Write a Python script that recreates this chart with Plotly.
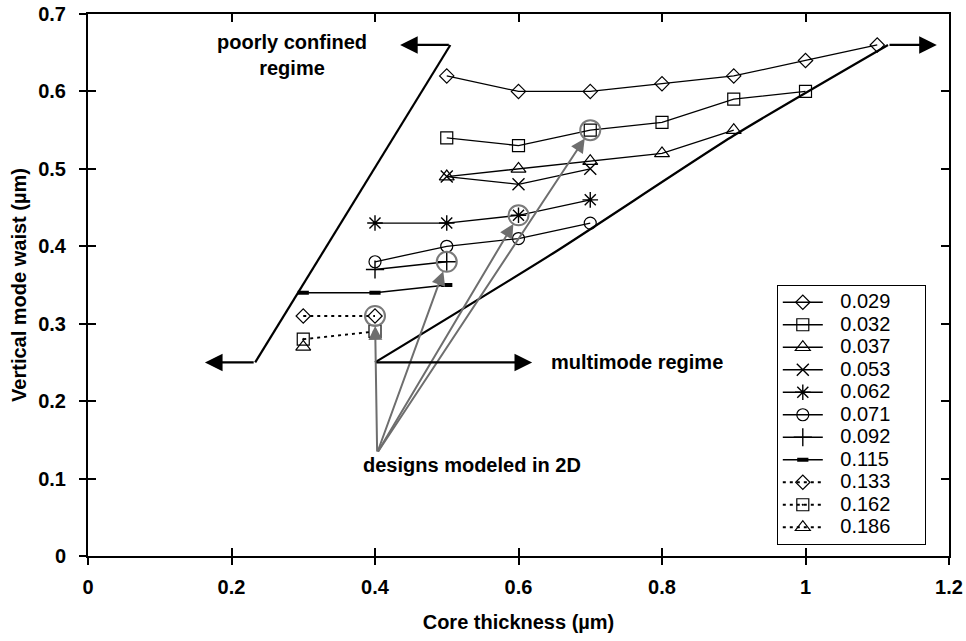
import plotly.graph_objects as go

# Core thickness (um) and vertical mode waist (um) for each index step
series_names = ["0.029", "0.032", "0.037", "0.053", "0.062", "0.071",
                "0.092", "0.115", "0.133", "0.162", "0.186"]

x_029 = [0.5, 0.6, 0.7, 0.8, 0.9, 1.0, 1.1]
y_029 = [0.62, 0.60, 0.60, 0.61, 0.62, 0.64, 0.66]
x_032 = [0.5, 0.6, 0.7, 0.8, 0.9, 1.0]
y_032 = [0.54, 0.53, 0.55, 0.56, 0.59, 0.60]
x_037 = [0.5, 0.6, 0.7, 0.8, 0.9]
y_037 = [0.49, 0.50, 0.51, 0.52, 0.55]
x_053 = [0.5, 0.6, 0.7]
y_053 = [0.49, 0.48, 0.50]
x_062 = [0.4, 0.5, 0.6, 0.7]
y_062 = [0.43, 0.43, 0.44, 0.46]
x_071 = [0.4, 0.5, 0.6, 0.7]
y_071 = [0.38, 0.40, 0.41, 0.43]
x_092 = [0.4, 0.5]
y_092 = [0.37, 0.38]
x_115 = [0.3, 0.4, 0.5]
y_115 = [0.34, 0.34, 0.35]
x_133 = [0.3, 0.4]
y_133 = [0.31, 0.31]
x_162 = [0.3, 0.4]
y_162 = [0.28, 0.29]
x_186 = [0.3]
y_186 = [0.27]

# Designs modeled in 2D (highlighted points)
design_x = [0.4, 0.5, 0.6, 0.7]
design_y = [0.31, 0.38, 0.44, 0.55]
design_origin = (0.403, 0.133)

# Regime boundaries
left_bound_x = [0.233, 0.505]
left_bound_y = [0.25, 0.66]
right_bound_x = [0.4, 0.65, 0.9, 1.115]
right_bound_y = [0.25, 0.392, 0.543, 0.66]

x_ticks = [0, 0.2, 0.4, 0.6, 0.8, 1.0, 1.2]
y_ticks = [0, 0.1, 0.2, 0.3, 0.4, 0.5, 0.6, 0.7]

FONT = "Arial, Liberation Sans, sans-serif"

styles = [
    ("diamond-open", 11, "solid", 1.2),
    ("square-open", 12, "solid", 1.2),
    ("triangle-up-open", 13, "solid", 1.2),
    ("x-thin-open", 12, "solid", 1.4),
    ("asterisk-open", 13, "solid", 1.4),
    ("circle-open", 12, "solid", 1.2),
    ("cross-thin-open", 13, "solid", 1.4),
    ("line-ew-open", 8, "solid", 4),
    ("diamond-open", 11, "3px,4px", 1.2),
    ("square-open-dot", 12, "3px,4px", 1.2),
    ("triangle-up-open", 13, "3px,4px", 1.2),
]

xs = [x_029, x_032, x_037, x_053, x_062, x_071, x_092, x_115, x_133, x_162, x_186]
ys = [y_029, y_032, y_037, y_053, y_062, y_071, y_092, y_115, y_133, y_162, y_186]

fig = go.Figure()

# Boundary lines
fig.add_trace(go.Scatter(x=left_bound_x, y=left_bound_y, mode="lines",
                         line=dict(color="black", width=2.2), showlegend=False,
                         hoverinfo="skip"))
fig.add_trace(go.Scatter(x=right_bound_x, y=right_bound_y, mode="lines",
                         line=dict(color="black", width=2.2, shape="spline", smoothing=0.6),
                         showlegend=False, hoverinfo="skip"))

lead = "&nbsp;" * 3
trail = "&nbsp;" * 7
for name, x, y, (sym, size, dash, mlw) in zip(series_names, xs, ys, styles):
    fig.add_trace(go.Scatter(
        x=x, y=y, mode="lines+markers",
        name=lead + "<span style='font-size:20px'>" + name + "</span>" + trail,
        line=dict(color="black", width=1.3 if dash == "solid" else 2, dash=dash),
        marker=dict(symbol=sym, size=size, color="black",
                    line=dict(color="black", width=mlw)),
    ))

# Highlight circles for 2D designs
fig.add_trace(go.Scatter(x=design_x, y=design_y, mode="markers", showlegend=False,
                         marker=dict(symbol="circle-open", size=20, color="#7a7a7a",
                                     line=dict(color="#7a7a7a", width=2)),
                         hoverinfo="skip"))

annotations = []
# Gray arrows from the label to each 2D design
for dx, dy in zip(design_x, design_y):
    annotations.append(dict(
        x=dx, y=dy, ax=design_origin[0], ay=design_origin[1],
        xref="x", yref="y", axref="x", ayref="y", text="",
        showarrow=True, arrowhead=2, arrowsize=1.4, arrowwidth=2,
        arrowcolor="#6e6e6e", standoff=10))

# Black regime arrows: (tail, head)
black_arrows = [
    ((0.233, 0.25), (0.163, 0.25)),
    ((0.505, 0.66), (0.435, 0.66)),
    ((1.115, 0.66), (1.183, 0.66)),
    ((0.4, 0.25), (0.619, 0.25)),
]
for (tx, ty), (hx, hy) in black_arrows:
    annotations.append(dict(
        x=hx, y=hy, ax=tx, ay=ty, xref="x", yref="y", axref="x", ayref="y",
        text="", showarrow=True, arrowhead=2, arrowsize=1.6, arrowwidth=2.2,
        arrowcolor="black", standoff=0))

label_font = dict(family=FONT, size=20, color="black", weight="bold")
annotations += [
    dict(x=0.284, y=0.647, xref="x", yref="y", text="poorly confined<br>regime",
         showarrow=False, font=label_font, align="center"),
    dict(x=0.643, y=0.25, xref="x", yref="y", text="multimode regime",
         showarrow=False, font=label_font, xanchor="left"),
    dict(x=0.381, y=0.117, xref="x", yref="y", text="designs modeled in 2D",
         showarrow=False, font=label_font, xanchor="left"),
]

tick_font = dict(family=FONT, size=20, color="black", weight="bold")
title_font = dict(family=FONT, size=20, color="black", weight="bold")

fig.update_layout(
    width=966, height=641,
    margin=dict(l=88, r=17, t=14, b=85),
    paper_bgcolor="white", plot_bgcolor="white",
    showlegend=True,
    legend=dict(x=0.8, y=0.5, xanchor="left", yanchor="top",
                bgcolor="white", bordercolor="black", borderwidth=1,
                font=dict(family=FONT, size=15, color="black"),
                itemwidth=40),
    annotations=annotations,
    xaxis=dict(range=[0, 1.2], tickvals=x_ticks, ticks="inside", ticklen=8,
               tickwidth=2, tickcolor="black", mirror="allticks", showline=True,
               linecolor="black", linewidth=2, showgrid=False, zeroline=False,
               tickfont=tick_font, ticklabelstandoff=12, automargin=False,
               title=dict(text="Core thickness (µm)", font=title_font, standoff=18)),
    yaxis=dict(range=[0, 0.7], tickvals=y_ticks, ticks="inside", ticklen=8,
               tickwidth=2, tickcolor="black", mirror="allticks", showline=True,
               linecolor="black", linewidth=2, showgrid=False, zeroline=False,
               tickfont=tick_font, ticklabelstandoff=16, automargin=False,
               title=dict(text="Vertical mode waist (µm)", font=title_font, standoff=6)),
    xaxis2=dict(range=[0, 1.2], tickvals=x_ticks, overlaying="x", side="bottom",
                ticks="outside", ticklen=8, tickwidth=2, tickcolor="black",
                showticklabels=False, showline=False, showgrid=False, zeroline=False,
                automargin=False),
    yaxis2=dict(range=[0, 0.7], tickvals=y_ticks, overlaying="y", side="left",
                ticks="outside", ticklen=8, tickwidth=2, tickcolor="black",
                showticklabels=False, showline=False, showgrid=False, zeroline=False,
                automargin=False),
)

# Invisible trace anchoring the outer tick axes
fig.add_trace(go.Scatter(x=[0], y=[0], xaxis="x2", yaxis="y2", mode="markers",
                         marker=dict(opacity=0), showlegend=False, hoverinfo="skip"))

fig.write_html("out.html")
